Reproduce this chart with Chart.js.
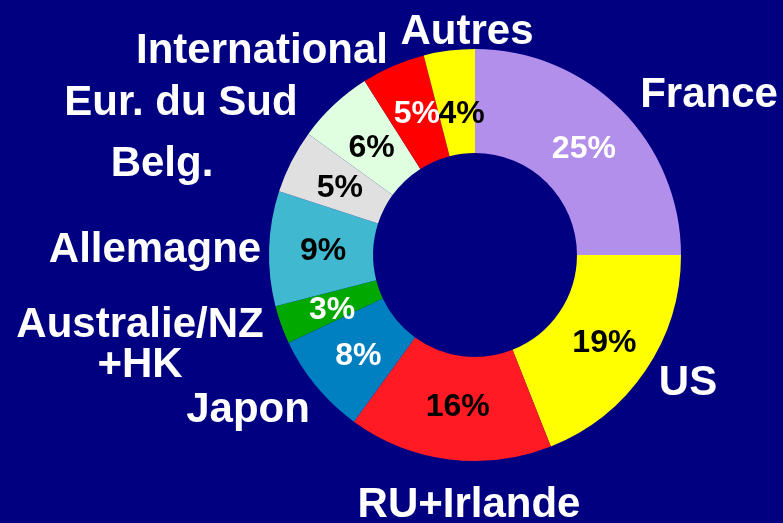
<!DOCTYPE html>
<html>
<head>
<meta charset="utf-8">
<script src="https://cdn.jsdelivr.net/npm/chart.js@4/dist/chart.umd.min.js"></script>
<style>
  html, body { margin: 0; padding: 0; background: #000080; }
  #wrap { width: 783px; height: 523px; }
</style>
</head>
<body>
<div id="wrap"><canvas id="myChart"></canvas></div>
<script>
const labels = ['France', 'US', 'RU+Irlande', 'Japon', 'Australie/NZ\n+HK', 'Allemagne', 'Belg.', 'Eur. du Sud', 'International', 'Autres'];
const shares = [25, 19, 16, 8, 3, 9, 5, 6, 5, 4];
const colors = ['#B38FEC', '#FFFF00', '#FF1A24', '#0080C0', '#00A800', '#40B8D0', '#E0E0E0', '#E0FFE0', '#FF0000', '#FFFF00'];
const pctColors = ['#fff', '#000', '#000', '#fff', '#fff', '#000', '#000', '#000', '#fff', '#000'];

// where the outside names sit (centre of text)
const namePos = [[709, 95], [688, 383], [469, 505], [248, 410], [140, 325], [155, 250], [162, 164], [181, 103], [262, 51], [467, 32]];
// small nudges for crowded percent labels
const pctNudge = [[0, 3], [2, 2], [2, -1], [2, 3], [2, 3], [2, 1], [2, 3], [2, 5], [3, 0], [6, 12]];

const labelPlugin = {
    id: 'labels',
    afterDatasetsDraw(chart) {
        const ctx = chart.ctx;
        const meta = chart.getDatasetMeta(0);
        ctx.save();
        ctx.textAlign = 'center';
        ctx.textBaseline = 'middle';
        ctx.font = 'bold 32px "Liberation Sans", Arial, sans-serif';
        meta.data.forEach((arc, i) => {
            const p = arc.getCenterPoint();
            ctx.fillStyle = pctColors[i];
            ctx.fillText(shares[i] + '%', p.x + pctNudge[i][0], p.y + pctNudge[i][1]);
        });
        ctx.font = 'bold 42px "Liberation Sans", Arial, sans-serif';
        ctx.fillStyle = '#fff';
        labels.forEach((name, i) => {
            const lines = name.split('\n');
            lines.forEach((ln, k) => {
                ctx.fillText(ln, namePos[i][0], namePos[i][1] + k * 40);
            });
        });
        ctx.restore();
    }
};

new Chart(document.getElementById('myChart'), {
    type: 'doughnut',
    data: {
        labels: labels,
        datasets: [{
            data: shares,
            backgroundColor: colors,
            borderWidth: 0
        }]
    },
    options: {
        responsive: true,
        maintainAspectRatio: false,
        animation: false,
        cutout: '49.5%',
        layout: {
            padding: { left: 269, right: 102, top: 49, bottom: 62 }
        },
        plugins: {
            legend: { display: false },
            tooltip: { enabled: false }
        }
    },
    plugins: [labelPlugin]
});
</script>
</body>
</html>
